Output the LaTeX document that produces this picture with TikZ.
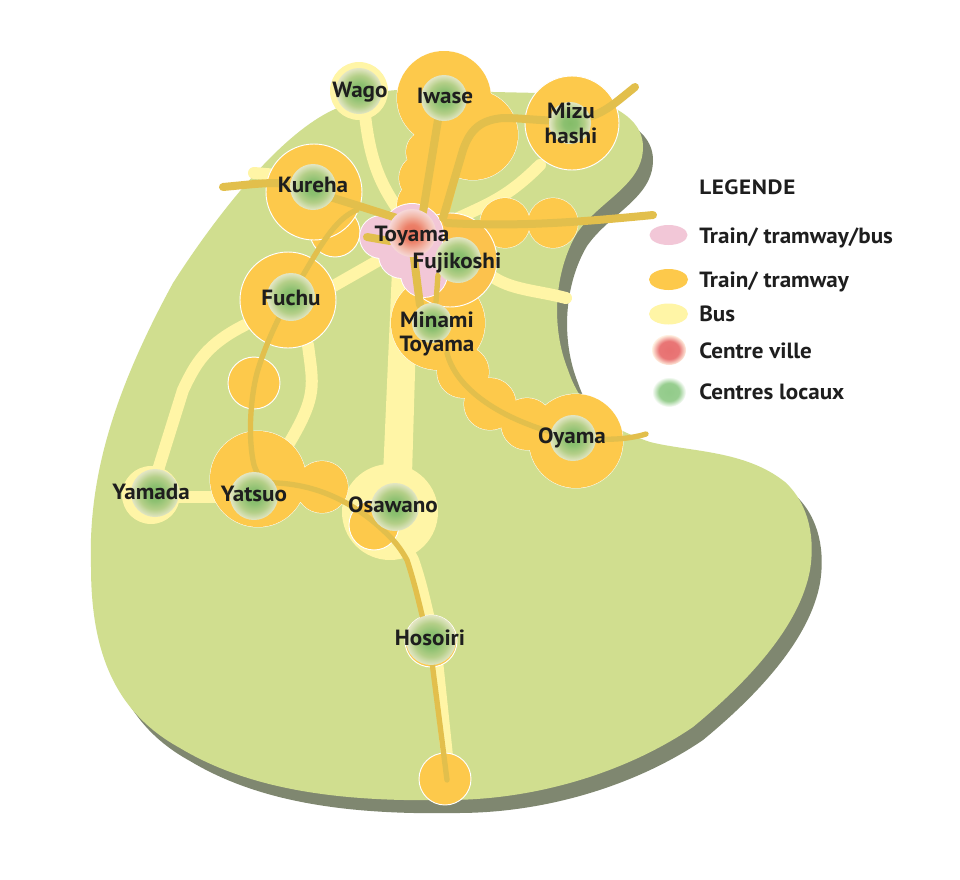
\documentclass[tikz,border=0pt]{standalone}
\usepackage{fontspec}
\setmainfont{PT Sans}[FakeStretch=1.05]
\newfontfamily\legfont{PT Sans}[FakeStretch=1.12,LetterSpace=3]
\definecolor{land}{HTML}{D0DE8F}
\definecolor{shadowc}{HTML}{7F8770}
\definecolor{orangec}{HTML}{FDC94B}
\definecolor{orangeb}{HTML}{FCC24D}
\definecolor{busc}{HTML}{FFF5A6}
\definecolor{pinkc}{HTML}{F2C7D7}
\definecolor{goldc}{HTML}{E2BF4C}
\definecolor{inkc}{HTML}{1E1E1E}
\definecolor{ga}{HTML}{84BC68}
\definecolor{gb}{HTML}{8CC070}
\definecolor{gc}{HTML}{B4CF88}
\definecolor{gd}{HTML}{E3E6C4}
\definecolor{ra}{HTML}{E9705C}
\definecolor{rb}{HTML}{EC8068}
\definecolor{rc}{HTML}{F2B8A8}
\definecolor{rd}{HTML}{F6D8D8}
\definecolor{la}{HTML}{92CB8A}
\definecolor{lb}{HTML}{98CE90}
\definecolor{ma}{HTML}{E87070}
\definecolor{mb}{HTML}{E97676}
\definecolor{mc}{HTML}{FFF0E0}
\pgfdeclareradialshading{greenblob}{\pgfpointorigin}{color(0bp)=(ga);color(8bp)=(gb);color(17bp)=(gc);color(25bp)=(gd);color(50bp)=(gd)}
\pgfdeclareradialshading{redblob}{\pgfpointorigin}{color(0bp)=(ra);color(9bp)=(rb);color(18bp)=(rc);color(25bp)=(rd);color(50bp)=(rd)}
\pgfdeclareradialshading{greenleg}{\pgfpointorigin}{color(0bp)=(la);color(15bp)=(lb);color(25bp)=(white);color(50bp)=(white)}
\pgfdeclareradialshading{redleg}{\pgfpointorigin}{color(0bp)=(ma);color(15bp)=(mb);color(25bp)=(mc);color(50bp)=(mc)}
\tikzset{
  busline/.style={draw=busc,line width=9pt,line cap=round,line join=round},
  goldline/.style={draw=goldc,line width=6pt,line cap=round,line join=round},
  goldthin/.style={draw=goldc,line width=4pt,line cap=round,line join=round},
  orangedisc/.style={fill=orangec,draw=white,line width=0.7pt},
  paledisc/.style={fill=busc},
  glab/.style={text=inkc,font=\fontsize{16.5}{17}\selectfont\bfseries,align=center,inner sep=0pt},
  leglab/.style={text=inkc,font=\fontsize{16.5}{18}\selectfont\bfseries,anchor=west,inner sep=0pt},
}
\def\landpath{(400,90) -- (540,93) .. controls (590,93) and (643,110) .. (643,147) .. controls (643,185) and (600,200) .. (577,233) .. controls (555,270) and (550,325) .. (568,370) .. controls (580,405) and (600,425) .. (650,442) .. controls (690,452) and (745,450) .. (785,482) .. controls (810,505) and (815,540) .. (810,570) .. controls (800,625) and (750,680) .. (693,727) .. controls (630,770) and (540,800) .. (447,800) .. controls (340,802) and (250,790) .. (180,748) .. controls (120,715) and (91,660) .. (91,567) .. controls (88,480) and (112,395) .. (173,283) .. controls (210,225) and (280,130) .. (340,107) .. controls (360,98) and (380,90) .. (400,90) -- cycle}
\def\pinkdiscs{(412,235) circle (31) (381,237) circle (21) (402,255) circle (23) (424,274) circle (23)}
\begin{document}
\begin{tikzpicture}[x=0.75pt,y=-0.75pt]
\useasboundingbox (0,0) rectangle (960,879);
\fill[white] (0,0) rectangle (960,879);
% land
\begin{scope}[shift={(10,13)}]
\fill[shadowc] \landpath;
\end{scope}
\fill[land] \landpath;
% bus lines
\path[busline] (365,115) .. controls (370,160) and (380,185) .. (402,215);
\path[busline] (540,165) .. controls (505,200) and (485,205) .. (450,222);
\path[busline] (330,288) -- (388,255);
\path[busline] (490,275) .. controls (510,290) and (535,290) .. (566,298);
\path[busline] (254,173) -- (278,175);
\path[busline] (245,325) .. controls (205,345) and (195,365) .. (183,390) -- (158,470);
\path[busline] (308,345) .. controls (313,385) and (318,395) .. (288,445);
\path[busline] (170,497) -- (225,497);
\fill[busc] (392,270) -- (418,270) -- (412,475) -- (383,475) -- cycle;
\path[busline] (405,545) -- (413,560) .. controls (420,580) and (424,598) .. (428,615) .. controls (433,635) and (436,650) .. (438,670) -- (449,775);
% pale discs
\fill[paledisc] (359,91) circle (29);
\fill[paledisc] (151,495) circle (29);
\fill[busc] (390,512) circle (48);
% orange clusters: outlines first, then a plain fill so that inner outlines vanish
\path[orangedisc] (473,135) circle (45) (444,98) circle (47) (428,152) circle (22) (423,178) circle (24) (423,205) circle (26);
\fill[orangec] (473,135) circle (45) (444,98) circle (47) (428,152) circle (22) (423,178) circle (24) (423,205) circle (26) (440,150) circle (25);
\fill[orangec] (410,140) -- (470,140) -- (458,180) -- (447,222) -- (400,222) -- cycle;
\path[orangedisc] (572,123) circle (47);
\path[orangedisc] (335,232) circle (25);
\path[orangedisc] (314,192) circle (48);
\path[orangedisc] (288,300) circle (48);
\path[orangedisc] (254,383) circle (26);
\path[orangedisc] (322,487) circle (26) (258,479) circle (48);
\fill[orangec] (322,487) circle (26) (258,479) circle (48);
\path[orangedisc] (374,525) circle (25);
\path[orangedisc] (505,223) circle (25) (553,223) circle (25);
\fill[orangec] (505,223) circle (25) (553,223) circle (25);
\path[orangedisc] (527,424) circle (26) (490,404) circle (26) (463,372) circle (26) (576,441) circle (47) (438,323) circle (47);
\fill[orangec] (527,424) circle (26) (490,404) circle (26) (463,372) circle (26) (576,441) circle (47) (438,323) circle (47);
\path[fill=orangeb,draw=white,line width=0.7pt] (450,260) circle (47);
\path[orangedisc] (445,779) circle (26);
\path[orangedisc] (431,641) circle (26);
% pink
\path[draw=white,line width=1.4pt] \pinkdiscs;
\fill[pinkc] \pinkdiscs;
% gold lines
\path[goldline] (438,120) -- (423,212);
\path[goldline] (635,87) .. controls (615,103) and (605,113) .. (585,118) .. controls (560,124) and (530,118) .. (503,118) .. controls (480,120) and (470,130) .. (463,150) -- (443,218);
\path[goldline] (447,223) .. controls (520,227) and (580,222) .. (653,215);
\path[goldline] (223,187) .. controls (245,185) and (260,183) .. (277,183) .. controls (300,187) and (340,200) .. (400,219);
\path[goldthin] (357,210) .. controls (335,218) and (318,250) .. (302,277) .. controls (290,295) and (268,335) .. (257,373) .. controls (250,400) and (248,440) .. (254,465) .. controls (258,478) and (265,483) .. (277,483) .. controls (315,485) and (355,500) .. (393,540) .. controls (400,548) and (403,553) .. (407,560) .. controls (413,578) and (418,598) .. (422,615) .. controls (427,635) and (431,650) .. (433,670) -- (447,780);
\path[goldline] (367,237) -- (390,241);
\path[goldline] (413,250) -- (420,305);
\path[goldthin] (438,275) -- (436,302);
\path[goldthin] (447,353) .. controls (455,385) and (490,410) .. (530,425) .. controls (560,437) and (610,445) .. (646,434);
% local centres
\shade[shading=greenblob] (359,91) circle (23);
\shade[shading=greenblob] (444,98) circle (23);
\shade[shading=greenblob] (570,123) circle (21);
\shade[shading=greenblob] (313,187) circle (23);
\shade[shading=redblob] (412,233) circle (24);
\shade[shading=greenblob] (458,260) circle (23);
\shade[shading=greenblob] (291,297) circle (24);
\shade[shading=greenblob] (432,323) circle (20);
\shade[shading=greenblob] (573,438) circle (23);
\shade[shading=greenblob] (254,496) circle (24);
\shade[shading=greenblob] (155,493) circle (24);
\shade[shading=greenblob] (395,507) circle (24);
\shade[shading=greenblob] (431,640) circle (25);
% labels
\node[glab] (wago) at (360,92) {Wago};
\node[glab] (iwase) at (445,96) {Iwase};
\node[glab] (mizu) at (571,123) {Mizu\\[2pt]hashi};
\node[glab] (kureha) at (313,185) {Kureha};
\node[glab] (toyama) at (412,236) {Toyama};
\node[glab] (fujikoshi) at (457,263) {Fujikoshi};
\node[glab] (fuchu) at (291,298) {Fuchu};
\node[glab] (minami) at (437,334) {Minami\\[1.5pt]Toyama};
\node[glab] (oyama) at (572,438) {Oyama};
\node[glab] (yatsuo) at (254,494) {Yatsuo};
\node[glab] (yamada) at (151,492) {Yamada};
\node[glab] (osawano) at (393,505) {Osawano};
\node[glab] (hosoiri) at (430,638) {Hosoiri};
% legend
\node[leglab,font=\fontsize{15.5}{18}\selectfont\bfseries\legfont] (legtitle) at (699,187) {LEGENDE};
\fill[pinkc] (668.5,235) ellipse (19 and 10);
\node[leglab] (leg1) at (699,238) {Train/ tramway/bus};
\fill[orangec] (668.5,279.5) ellipse (19.5 and 10.5);
\node[leglab] (leg2) at (699,282) {Train/ tramway};
\fill[busc] (668.5,314) ellipse (19.5 and 10.5);
\node[leglab] (leg3) at (699,314) {Bus};
\shade[shading=redleg] (669,350) ellipse (17 and 15);
\node[leglab] (leg4) at (699,351) {Centre ville};
\shade[shading=greenleg] (669,392) ellipse (17 and 15);
\node[leglab] (leg5) at (699,392) {Centres locaux};
\end{tikzpicture}
\end{document}
